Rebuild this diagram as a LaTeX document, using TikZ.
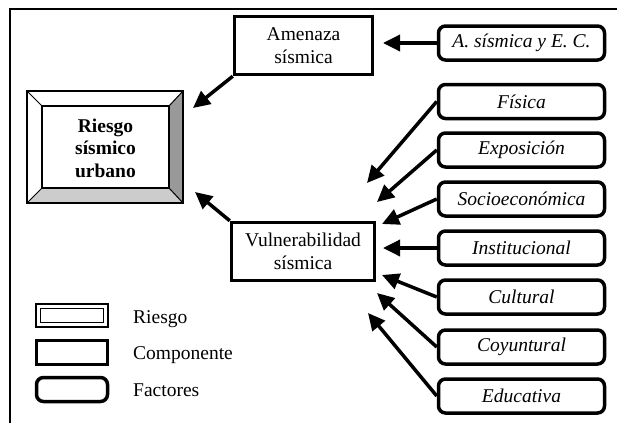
\documentclass[tikz,border=0pt]{standalone}
\usepackage{fontspec}
\setmainfont{Liberation Serif}
\usetikzlibrary{arrows.meta}
\begin{document}
\begin{tikzpicture}[x=1pt,y=-1pt,
  txt/.style={font=\fontsize{19.5}{23}\selectfont},
  comp/.style={txt, draw, line width=3.5pt, minimum height=58pt, align=center, inner sep=0pt},
  factor/.style={txt, draw, line width=3.5pt, rounded corners=7pt, minimum width=166pt, minimum height=34pt, inner sep=0pt, font=\fontsize{19.5}{23}\selectfont\itshape},
  arr/.style={line width=3.5pt, -{Triangle[length=17pt,width=16pt]}},
]
\useasboundingbox (0,0) rectangle (617,423);
% frame
\draw[line width=1.5pt] (10,423) -- (10,9) -- (617,9);

% risk box (bevelled)
\fill[white] (27,91) rectangle (183,203);
\fill[black!40] (183,91) -- (183,203) -- (169,188) -- (169,106) -- cycle;
\fill[black!20] (27,203) -- (183,203) -- (169,188) -- (42,188) -- cycle;
\draw[line width=1pt] (27,91) -- (42,106) (183,91) -- (169,106) (27,203) -- (42,188) (183,203) -- (169,188);
\draw[line width=1.5pt] (42,106) rectangle (169,188);
\draw[line width=2.5pt] (27,91) rectangle (183,203);
\node[txt, align=center, font=\fontsize{19.5}{22.5}\selectfont\bfseries] (riesgo) at (105.5,148) {Riesgo\\sísmico\\urbano};

% components
\node[comp, minimum width=138pt] (amen) at (303.5,45.5) {Amenaza\\sísmica};
\node[comp, minimum width=143pt] (vuln) at (303,251.5) {Vulnerabilidad\\sísmica};

% factors
\node[factor] (aec)  at (521.5,43)  {A. sísmica y E. C.};
\node[factor] (fis)  at (521.5,101.5) {Física};
\node[factor] (exp)  at (521.5,150) {Exposición};
\node[factor] (soc)  at (521.5,199) {Socioeconómica};
\node[factor] (ins)  at (521.5,248) {Institucional};
\node[factor] (cul)  at (521.5,297) {Cultural};
\node[factor] (coy)  at (521.5,347) {Coyuntural};
\node[factor] (edu)  at (521.5,396) {Educativa};

% arrow tips
\coordinate (tA) at (383,43);
\coordinate (tR1) at (193,108);
\coordinate (tR2) at (195,192);
\coordinate (t1) at (367,183);
\coordinate (t2) at (377,202);
\coordinate (t3) at (382,224);
\coordinate (t4) at (383,248);
\coordinate (t5) at (382,275);
\coordinate (t6) at (377,293);
\coordinate (t7) at (368,313);

\draw[arr] (aec.west) -- (tA);
\draw[arr] (amen.south west) -- (tR1);
\draw[arr] (vuln.north west) -- (tR2);
\draw[arr] (fis.west) -- (t1);
\draw[arr] (exp.west) -- (t2);
\draw[arr] (soc.west) -- (t3);
\draw[arr] (ins.west) -- (t4);
\draw[arr] (cul.west) -- (t5);
\draw[arr] (coy.west) -- (t6);
\draw[arr] (edu.west) -- (t7);

% legend
\draw[line width=2.5pt] (36,304) rectangle (108,327);
\draw[line width=1pt] (40.5,308.5) rectangle (103.5,322.5);
\node[draw, line width=3.5pt, minimum width=71pt, minimum height=24pt, inner sep=0pt] (lcomp) at (72,352.5) {};
\node[draw, line width=3.5pt, rounded corners=7pt, minimum width=71pt, minimum height=24pt, inner sep=0pt] (lfac) at (72,389.5) {};
\node[txt, anchor=base west, inner sep=0pt] (lr) at (133,323) {Riesgo};
\node[txt, anchor=base west, inner sep=0pt] (lc) at (133,359) {Componente};
\node[txt, anchor=base west, inner sep=0pt] (lf) at (133,396) {Factores};
\end{tikzpicture}
\end{document}
